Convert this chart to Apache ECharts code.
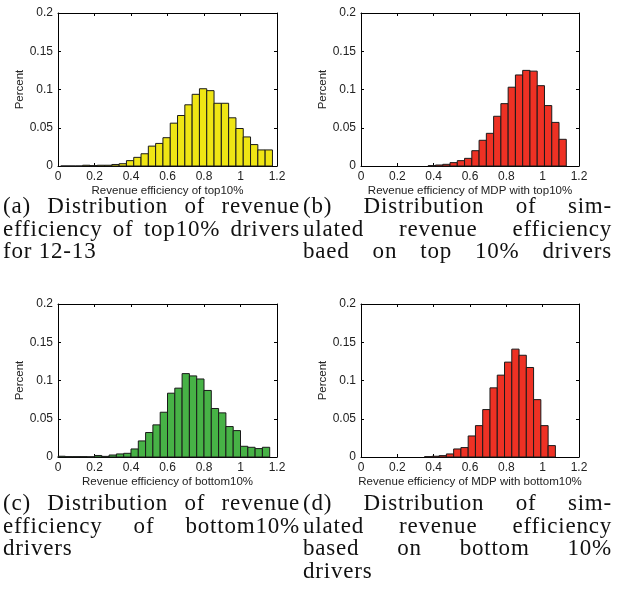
<!DOCTYPE html>
<html>
<head>
<meta charset="utf-8">
<script src="https://cdn.jsdelivr.net/npm/echarts@6/dist/echarts.min.js"></script>
<style>
html,body{margin:0;padding:0;background:#fff;width:618px;height:592px;overflow:hidden}
#chart{position:absolute;left:0;top:0;width:618px;height:592px}
.cap{position:absolute;font-family:'Liberation Serif',serif;font-size:23px;line-height:22.5px;color:#111;letter-spacing:0.8px}
.cap .j{text-align:justify;text-align-last:justify}
.cap .l{text-align:left}
</style>
</head>
<body>
<div id="chart"></div>
<div class="cap" id="capA" style="left:3px;top:195px;width:297px"></div>
<div class="cap" id="capB" style="left:303px;top:195px;width:309px"></div>
<div class="cap" id="capC" style="left:3px;top:492px;width:297px"></div>
<div class="cap" id="capD" style="left:303px;top:492px;width:309px"></div>
<script>
// ---------------- data ----------------
const BIN_WIDTH = 0.04;

const centersA = [0.035,0.075,0.115,0.155,0.195,0.235,0.275,0.315,0.355,0.395,0.435,0.475,0.515,0.555,0.595,0.635,0.675,0.715,0.755,0.795,0.835,0.875,0.915,0.955,0.995,1.035,1.075,1.115,1.155];
const valuesA  = [0,0,0,0.001,0.0005,0.001,0.001,0.002,0.003,0.007,0.0113,0.016,0.026,0.0295,0.037,0.056,0.066,0.080,0.0937,0.101,0.0985,0.082,0.082,0.063,0.049,0.038,0.028,0.021,0.021];

const centersB = [0.39,0.43,0.47,0.51,0.55,0.59,0.63,0.67,0.71,0.75,0.79,0.83,0.87,0.91,0.95,0.99,1.03,1.07,1.11];
const valuesB  = [0.0005,0.0013,0.0022,0.0044,0.007,0.010,0.020,0.0336,0.0427,0.065,0.0815,0.103,0.119,0.125,0.124,0.105,0.079,0.057,0.0349];

const centersC = [0.02,0.06,0.10,0.14,0.18,0.22,0.26,0.30,0.34,0.38,0.42,0.46,0.50,0.54,0.58,0.62,0.66,0.70,0.74,0.78,0.82,0.86,0.90,0.94,0.98,1.02,1.06,1.10,1.14];
const valuesC  = [0.001,0.0005,0.0005,0.0005,0.0003,0.002,0.0008,0.0026,0.004,0.0048,0.0105,0.021,0.032,0.042,0.0585,0.0834,0.090,0.109,0.106,0.102,0.087,0.0634,0.0577,0.0398,0.0345,0.014,0.0127,0.011,0.0127];

const centersD = [0.37,0.41,0.45,0.49,0.53,0.57,0.61,0.65,0.69,0.73,0.77,0.81,0.85,0.89,0.93,0.97,1.01,1.05];
const valuesD  = [0.0005,0.001,0.0018,0.004,0.0105,0.0123,0.0275,0.041,0.062,0.0904,0.107,0.124,0.141,0.133,0.117,0.075,0.041,0.0149];

const xTickValues = [0,0.2,0.4,0.6,0.8,1,1.2];
const yTickValues = [0,0.05,0.1,0.15,0.2];

const xTitles = ['Revenue efficiency of top10%','Revenue efficiency of MDP with top10%','Revenue efficiency of bottom10%','Revenue efficiency of MDP with bottom10%'];
const yTitle = 'Percent';

const captionA = ['(a) Distribution of revenue','efficiency of top10% drivers','for 12-13'];
const captionB = ['(b) Distribution of sim-','ulated revenue efficiency','baed on top 10% drivers'];
const captionC = ['(c) Distribution of revenue','efficiency of bottom10%','drivers'];
const captionD = ['(d) Distribution of sim-','ulated revenue efficiency','based on bottom 10%','drivers'];

// ---------------- captions ----------------
function fillCaption(id, lines, fullLast){
  const el = document.getElementById(id);
  lines.forEach((t,i)=>{
    const d = document.createElement('div');
    d.className = (i < lines.length-1 || fullLast) ? 'j' : 'l';
    d.textContent = t;
    el.appendChild(d);
  });
}
fillCaption('capA', captionA, false);
fillCaption('capB', captionB, true);
fillCaption('capC', captionC, false);
fillCaption('capD', captionD, false);

// ---------------- chart ----------------
const panels = [
  {c:centersA, v:valuesA, color:'#efe514', grid:{left:58, top:13, width:219, height:153}},
  {c:centersB, v:valuesB, color:'#ee3124', grid:{left:361, top:13, width:218, height:153}},
  {c:centersC, v:valuesC, color:'#47b246', grid:{left:58, top:304, width:219, height:153}},
  {c:centersD, v:valuesD, color:'#ee3124', grid:{left:361, top:304, width:218, height:153}}
];

const labelStyle = {color:'#222', fontSize:12, fontFamily:'Liberation Sans, Arial, sans-serif'};
const nameStyle = {color:'#222', fontSize:11.5, fontFamily:'Liberation Sans, Arial, sans-serif'};
const grids=[], xAxes=[], yAxes=[], series=[];
panels.forEach((p,i)=>{
  grids.push(Object.assign({show:false, containLabel:false}, p.grid));
  const xCommon = {gridIndex:i, type:'value', min:xTickValues[0], max:xTickValues[xTickValues.length-1], interval:0.2,
    axisLine:{show:true, onZero:false, lineStyle:{color:'#000', width:1}},
    axisTick:{show:true, inside:true, length:3, lineStyle:{color:'#000', width:1}},
    splitLine:{show:false}};
  xAxes.push(Object.assign({}, xCommon, {position:'bottom',
    axisLabel:Object.assign({margin:5}, labelStyle),
    name:xTitles[i], nameLocation:'middle', nameGap:19, nameTextStyle:nameStyle}));
  xAxes.push(Object.assign({}, xCommon, {position:'top', axisLabel:{show:false}}));
  const yCommon = {gridIndex:i, type:'value', min:yTickValues[0], max:yTickValues[yTickValues.length-1], interval:0.05,
    axisLine:{show:true, onZero:false, lineStyle:{color:'#000', width:1}},
    axisTick:{show:true, inside:true, length:3, lineStyle:{color:'#000', width:1}},
    splitLine:{show:false}};
  yAxes.push(Object.assign({}, yCommon, {position:'left',
    axisLabel:Object.assign({margin:5}, labelStyle),
    name:yTitle, nameLocation:'middle', nameGap:31, nameTextStyle:nameStyle}));
  yAxes.push(Object.assign({}, yCommon, {position:'right', axisLabel:{show:false}}));
  series.push({
    type:'custom', xAxisIndex:2*i, yAxisIndex:2*i,
    data:p.c.map((c,j)=>[c, p.v[j]]),
    renderItem:(params, api)=>{
      const c = api.value(0), v = api.value(1);
      const tl = api.coord([c - BIN_WIDTH/2, v]);
      const br = api.coord([c + BIN_WIDTH/2, 0]);
      return {type:'rect',
        shape:{x:tl[0], y:tl[1], width:br[0]-tl[0], height:br[1]-tl[1]},
        style:{fill:p.color, stroke:'#1a1a1a', lineWidth:1}};
    }
  });
});

const chart = echarts.init(document.getElementById('chart'), null, {renderer:'canvas'});
chart.setOption({animation:false, backgroundColor:'#fff', grid:grids, xAxis:xAxes, yAxis:yAxes, series:series});
</script>
</body>
</html>
